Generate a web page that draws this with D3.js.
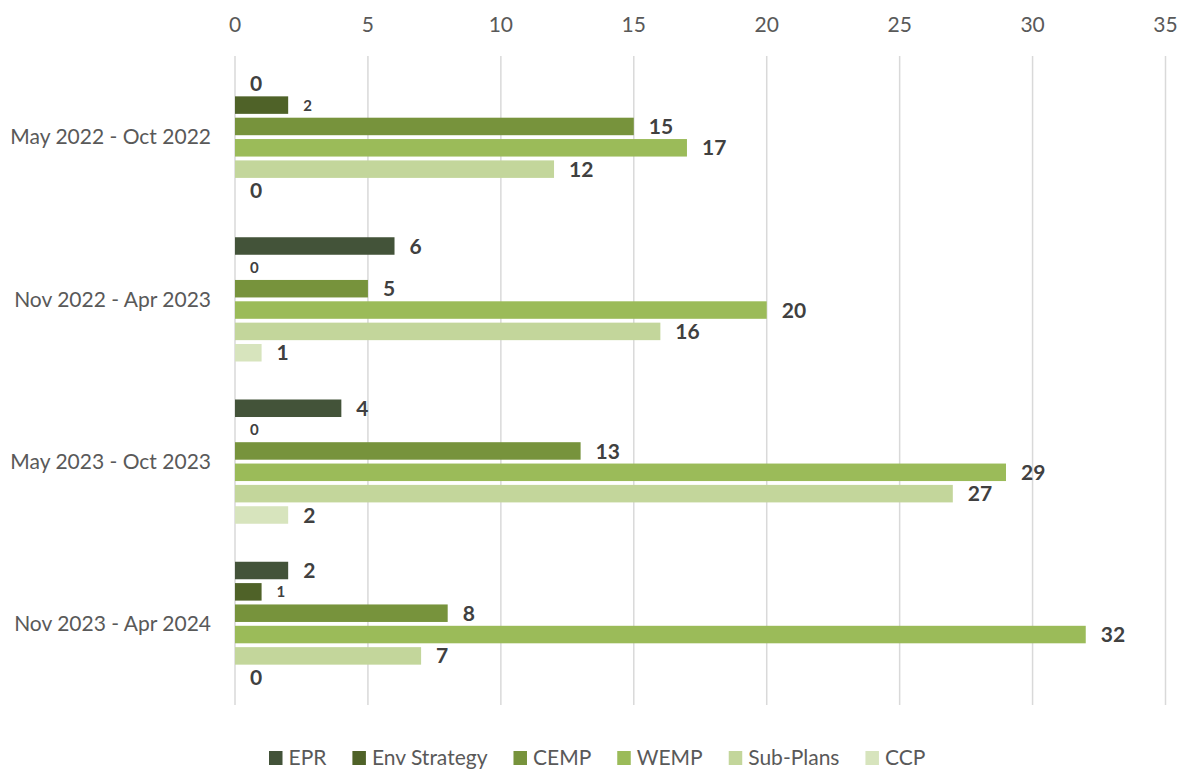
<!DOCTYPE html>
<html>
<head>
<meta charset="utf-8">
<script src="https://cdn.jsdelivr.net/npm/d3@7"></script>
<style>
  body { margin: 0; background: #fff; }
  svg text { font-family: Lato, "Open Sans", sans-serif; }
</style>
</head>
<body>
<svg width="1184" height="770"></svg>
<script>
var categories = ["May 2022 - Oct 2022", "Nov 2022 - Apr 2023", "May 2023 - Oct 2023", "Nov 2023 - Apr 2024"];
var seriesNames = ["EPR", "Env Strategy", "CEMP", "WEMP", "Sub-Plans", "CCP"];
var seriesColors = ["#435339", "#4f6228", "#77933c", "#9bbb59", "#c3d69b", "#d7e4bd"];

var eprValues = [0, 6, 4, 2];
var envValues = [2, 0, 0, 1];
var cempValues = [15, 5, 13, 8];
var wempValues = [17, 20, 29, 32];
var subValues = [12, 16, 27, 7];
var ccpValues = [0, 1, 2, 0];

var xTicks = [0, 5, 10, 15, 20, 25, 30, 35];

var allValues = [eprValues, envValues, cempValues, wempValues, subValues, ccpValues];

var svg = d3.select("svg");

var x = d3.scaleLinear().domain([0, 35]).range([235, 1165.5]);
var y0 = d3.scaleBand().domain(categories).range([56, 705]);
var y1 = d3.scaleBand().domain(seriesNames)
    .range([19, y0.bandwidth() - 19])
    .paddingInner(0.18);

// gridlines
svg.selectAll(".grid")
    .data(xTicks)
    .enter().append("line")
    .attr("class", "grid")
    .attr("x1", function(d) { return x(d); })
    .attr("x2", function(d) { return x(d); })
    .attr("y1", 56)
    .attr("y2", 705)
    .attr("stroke", "#d9d9d9")
    .attr("stroke-width", 1.5);

// top axis labels
svg.selectAll(".xlab")
    .data(xTicks)
    .enter().append("text")
    .attr("class", "xlab")
    .attr("x", function(d) { return x(d); })
    .attr("y", 32)
    .attr("text-anchor", "middle")
    .attr("font-size", 21)
    .attr("fill", "#595959")
    .text(function(d) { return d; });

// category labels
svg.selectAll(".ylab")
    .data(categories)
    .enter().append("text")
    .attr("class", "ylab")
    .attr("x", 211)
    .attr("y", function(d) { return y0(d) + y0.bandwidth() / 2; })
    .attr("dy", "0.35em")
    .attr("text-anchor", "end")
    .attr("font-size", 21)
    .attr("fill", "#595959")
    .text(function(d) { return d; });

// bars + labels
var rows = [];
categories.forEach(function(c, ci) {
    seriesNames.forEach(function(s, si) {
        rows.push({cat: c, series: s, si: si, value: allValues[si][ci]});
    });
});

var groups = svg.selectAll(".bar")
    .data(rows)
    .enter().append("g")
    .attr("class", "bar")
    .attr("transform", function(d) { return "translate(0," + (y0(d.cat) + y1(d.series)) + ")"; });

groups.append("rect")
    .attr("x", x(0))
    .attr("y", 0)
    .attr("width", function(d) { return x(d.value) - x(0); })
    .attr("height", y1.bandwidth())
    .attr("fill", function(d) { return seriesColors[d.si]; });

groups.append("text")
    .attr("x", function(d) { return x(d.value) + 15; })
    .attr("y", y1.bandwidth() / 2)
    .attr("dy", "0.36em")
    .attr("font-weight", "bold")
    .attr("font-size", function(d) { return d.si == 1 ? 15 : 21; })
    .attr("fill", "#404040")
    .text(function(d) { return d.value; });

// legend
var legend = svg.append("g").attr("class", "legend");
var lx = 269;
seriesNames.forEach(function(s, i) {
    legend.append("rect")
        .attr("x", lx)
        .attr("y", 751)
        .attr("width", 13.5)
        .attr("height", 14)
        .attr("fill", seriesColors[i]);
    var t = legend.append("text")
        .attr("x", lx + 19.5)
        .attr("y", 765)
        .attr("font-size", 21)
        .attr("fill", "#595959")
        .text(s);
    lx = lx + 19.5 + t.node().getComputedTextLength() + 26;
});
</script>
</body>
</html>
